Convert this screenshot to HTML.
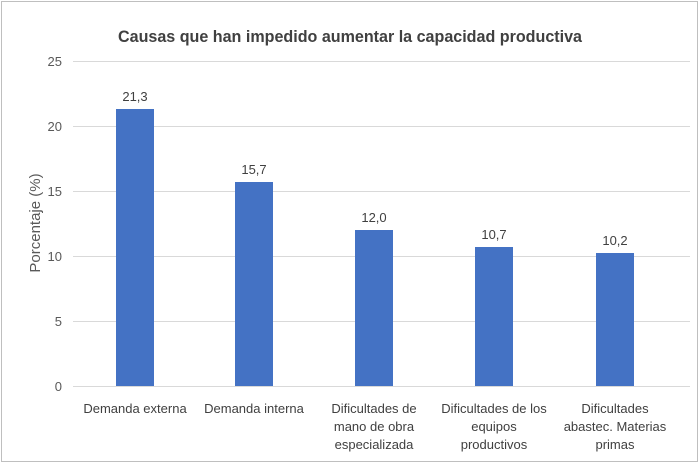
<!DOCTYPE html>
<html><head><meta charset="utf-8"><style>
body{margin:0;background:#fff}
svg{display:block;font-family:"Liberation Sans",sans-serif}
</style></head><body>
<svg width="700" height="464" viewBox="0 0 700 464">
<rect x="1.5" y="1.5" width="696" height="460" fill="#fff" stroke="#bfbfbf"/>
<text x="350" y="42" text-anchor="middle" font-size="17" font-weight="bold" fill="#404040" textLength="464" lengthAdjust="spacingAndGlyphs">Causas que han impedido aumentar la capacidad productiva</text>
<g stroke="#d9d9d9" stroke-width="1">
<line x1="73" x2="690" y1="61.5" y2="61.5"/>
<line x1="73" x2="690" y1="126.5" y2="126.5"/>
<line x1="73" x2="690" y1="191.5" y2="191.5"/>
<line x1="73" x2="690" y1="256.5" y2="256.5"/>
<line x1="73" x2="690" y1="321.5" y2="321.5"/>
<line x1="73" x2="690" y1="386.5" y2="386.5"/>
</g>
<g font-size="13" fill="#595959" text-anchor="end">
<text x="62" y="66">25</text><text x="62" y="131">20</text><text x="62" y="196">15</text>
<text x="62" y="261">10</text><text x="62" y="326">5</text><text x="62" y="391">0</text>
</g>
<text transform="translate(40,223) rotate(-90)" text-anchor="middle" font-size="15" fill="#595959">Porcentaje (%)</text>
<g fill="#4472c4">
<rect x="116" y="109" width="38" height="277"/>
<rect x="235" y="182" width="38" height="204"/>
<rect x="355" y="230" width="38" height="156"/>
<rect x="475" y="247" width="38" height="139"/>
<rect x="596" y="253" width="38" height="133"/>
</g>
<g font-size="13" fill="#404040" text-anchor="middle">
<text x="135" y="101">21,3</text><text x="254" y="174">15,7</text><text x="374" y="222">12,0</text>
<text x="494" y="239">10,7</text><text x="615" y="245">10,2</text>
</g>
<g font-size="13" fill="#404040" text-anchor="middle">
<text x="135" y="413">Demanda externa</text>
<text x="254" y="413">Demanda interna</text>
<text x="374" y="413">Dificultades de</text><text x="374" y="431">mano de obra</text><text x="374" y="449">especializada</text>
<text x="494" y="413">Dificultades de los</text><text x="494" y="431">equipos</text><text x="494" y="449">productivos</text>
<text x="615" y="413">Dificultades</text><text x="615" y="431">abastec. Materias</text><text x="615" y="449">primas</text>
</g>
</svg>
</body></html>
